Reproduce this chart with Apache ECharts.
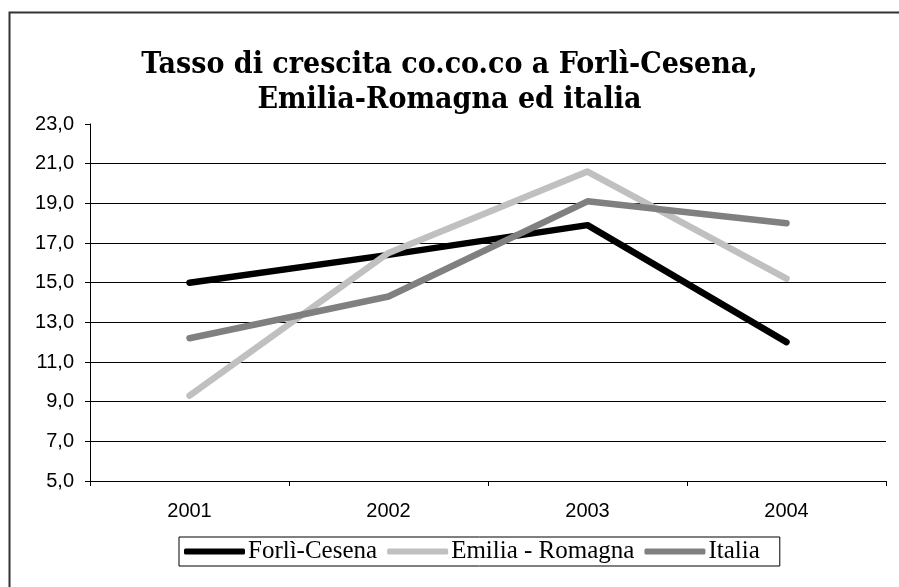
<!DOCTYPE html>
<html>
<head>
<meta charset="utf-8">
<script src="https://cdn.jsdelivr.net/npm/echarts@6/dist/echarts.min.js"></script>
<style>html,body{margin:0;padding:0;background:#fff}#c{width:899px;height:587px}</style>
</head>
<body>
<div id="c"></div>
<script>
const categories = ['2001', '2002', '2003', '2004'];
const forliCesena = [15.0, 16.4, 17.9, 12.0];
const emiliaRomagna = [9.3, 16.5, 20.6, 15.2];
const italia = [12.2, 14.3, 19.1, 18.0];
const seriesNames = ['Forlì-Cesena', 'Emilia - Romagna', 'Italia'];
const seriesColors = ['#000000', '#c0c0c0', '#808080'];
const seriesData = [forliCesena, emiliaRomagna, italia];

const chart = echarts.init(document.getElementById('c'), null, {renderer: 'canvas'});
chart.setOption({
  backgroundColor: '#ffffff',
  animation: false,
  title: {
    text: 'Tasso di crescita co.co.co a Forlì-Cesena,\nEmilia-Romagna ed italia',
    left: 'center',
    top: 43,
    textStyle: {fontFamily: '"DejaVu Serif Condensed", "DejaVu Serif"', fontWeight: 'bold', fontSize: 30, color: '#000', lineHeight: 35}
  },
  graphic: [{
    type: 'rect', left: 7, top: 10, silent: true,
    shape: {x: 0, y: 0, width: 1000, height: 1000},
    style: {fill: 'none', stroke: '#333', lineWidth: 2}
  }],
  legend: {
    top: 537, left: 179,
    itemWidth: 61, itemHeight: 6, itemGap: 10,
    icon: 'roundRect',
    borderColor: '#000', borderWidth: 1, padding: [2, 20, 2, 5],
    textStyle: {fontFamily: 'Liberation Serif', fontSize: 25, color: '#000', padding: [0, 0, 0, -2]},
    data: seriesNames.map((n, i) => ({name: n, itemStyle: {color: seriesColors[i]}}))
  },
  grid: {left: 90, right: 13, top: 124, bottom: 106},
  xAxis: {
    type: 'category', data: categories, boundaryGap: true,
    axisLine: {lineStyle: {color: '#000', width: 1}},
    axisTick: {show: true, length: 5, lineStyle: {color: '#000'}},
    axisLabel: {fontFamily: 'Liberation Sans', fontSize: 20, color: '#000', margin: 20}
  },
  yAxis: {
    type: 'value', min: 5, max: 23, interval: 2,
    axisLine: {show: true, lineStyle: {color: '#000', width: 1}},
    axisTick: {show: true, length: 5, lineStyle: {color: '#000'}},
    axisLabel: {fontFamily: 'Liberation Sans', fontSize: 20, color: '#000', margin: 16,
      formatter: v => v.toFixed(1).replace('.', ',')},
    splitLine: {show: true, showMaxLine: false, lineStyle: {color: '#000', width: 1}}
  },
  series: seriesData.map((d, i) => ({
    name: seriesNames[i], type: 'line', data: d, symbol: 'none',
    color: seriesColors[i],
    lineStyle: {color: seriesColors[i], width: 6.5, cap: 'round', join: 'round'}
  }))
});
</script>
</body>
</html>
